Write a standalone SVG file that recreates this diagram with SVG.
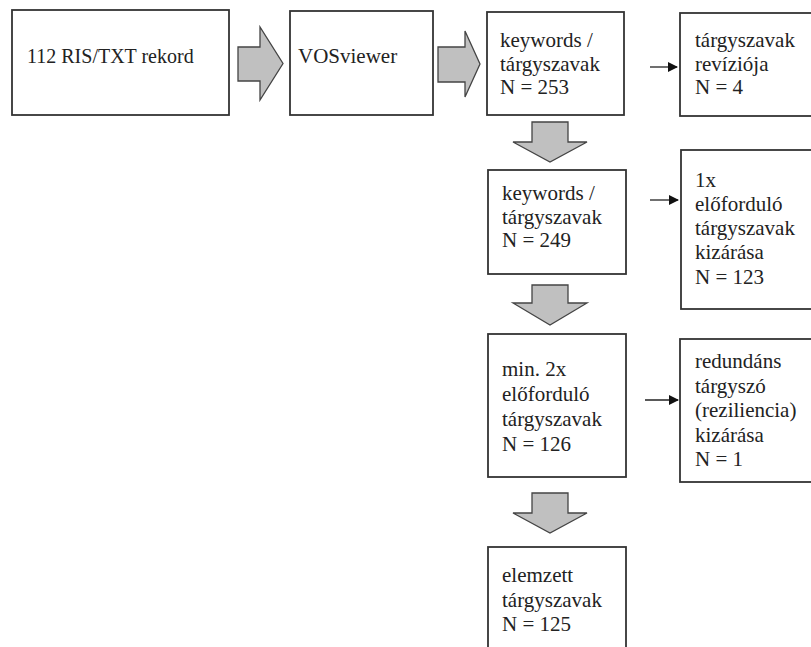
<svg xmlns="http://www.w3.org/2000/svg" width="811" height="647" viewBox="0 0 811 647">
<defs>
<marker id="ah" markerWidth="10" markerHeight="10" refX="9" refY="5" orient="auto" markerUnits="userSpaceOnUse">
<path d="M0,0 L10,5 L0,10 Z" fill="#111"/>
</marker>
</defs>
<rect width="811" height="647" fill="#fff"/>
<g id="connectors">
<g fill="#c0c0c0" stroke="#444" stroke-width="1.3">
<path d="M238,47 H260 V27 L283,63.5 L260,100 V81 H238 Z"/>
<path d="M438,47 H465 V31 L480,64 L465,97 V82 H438 Z"/>
<path d="M532,122 H568 V142 H587 L550,162 L513,142 H532 Z"/>
<path d="M532,285 H568 V303 H587 L550,325 L513,303 H532 Z"/>
<path d="M532,493 H568 V513 H587 L550,533 L513,513 H532 Z"/>
</g>
<g stroke="#222" stroke-width="1.3" fill="none">
<line x1="650" y1="67" x2="677" y2="67" marker-end="url(#ah)"/>
<line x1="650" y1="200" x2="678" y2="200" marker-end="url(#ah)"/>
<line x1="645" y1="400" x2="678" y2="400" marker-end="url(#ah)"/>
</g>
</g>
<g font-family="Times New Roman, Tinos, Liberation Serif, serif" font-size="21" fill="#222">
<g id="n1"><rect x="12" y="10" width="217" height="105" fill="#fff" stroke="#333" stroke-width="1.8"/><text font-family="Times New Roman" font-size="20" x="27" y="63">112 RIS/TXT rekord</text></g>
<g id="n2"><rect x="290" y="11" width="143" height="104" fill="#fff" stroke="#333" stroke-width="1.8"/><text font-family="Times New Roman" x="298" y="63">VOSviewer</text></g>
<g id="n3"><rect x="487" y="12" width="137" height="103" fill="#fff" stroke="#333" stroke-width="1.8"/><text font-family="Times New Roman" x="500" y="47">keywords /</text><text font-family="Times New Roman" x="500" y="70.5">tárgyszavak</text><text font-family="Times New Roman" x="500" y="94">N = 253</text></g>
<g id="n4"><rect x="680" y="13" width="150" height="103" fill="#fff" stroke="#333" stroke-width="1.8"/><text font-family="Times New Roman" x="695" y="47">tárgyszavak</text><text font-family="Times New Roman" x="695" y="70.5">revíziója</text><text font-family="Times New Roman" x="695" y="94">N = 4</text></g>
<g id="n5"><rect x="488" y="170" width="138" height="104" fill="#fff" stroke="#333" stroke-width="1.8"/><text font-family="Times New Roman" x="502" y="200">keywords /</text><text font-family="Times New Roman" x="502" y="223.5">tárgyszavak</text><text font-family="Times New Roman" x="502" y="247">N = 249</text></g>
<g id="n6"><rect x="681" y="150" width="150" height="159" fill="#fff" stroke="#333" stroke-width="1.8"/><text font-family="Times New Roman" x="695" y="187">1x</text><text font-family="Times New Roman" x="695" y="211">előforduló</text><text font-family="Times New Roman" x="695" y="235">tárgyszavak</text><text font-family="Times New Roman" x="695" y="259">kizárása</text><text font-family="Times New Roman" x="695" y="284">N = 123</text></g>
<g id="n7"><rect x="488" y="334" width="138" height="143" fill="#fff" stroke="#333" stroke-width="1.8"/><text font-family="Times New Roman" x="502" y="376">min. 2x</text><text font-family="Times New Roman" x="502" y="401">előforduló</text><text font-family="Times New Roman" x="502" y="426">tárgyszavak</text><text font-family="Times New Roman" x="502" y="451">N = 126</text></g>
<g id="n8"><rect x="680" y="339" width="150" height="143" fill="#fff" stroke="#333" stroke-width="1.8"/><text font-family="Times New Roman" x="695" y="368">redundáns</text><text font-family="Times New Roman" x="695" y="392.5">tárgyszó</text><text font-family="Times New Roman" x="695" y="417">(reziliencia)</text><text font-family="Times New Roman" x="695" y="441.5">kizárása</text><text font-family="Times New Roman" x="695" y="466">N = 1</text></g>
<g id="n9"><rect x="488" y="547" width="138" height="120" fill="#fff" stroke="#333" stroke-width="1.8"/><text font-family="Times New Roman" x="502" y="582">elemzett</text><text font-family="Times New Roman" x="502" y="606.5">tárgyszavak</text><text font-family="Times New Roman" x="502" y="631">N = 125</text></g>
</g>
</svg>
